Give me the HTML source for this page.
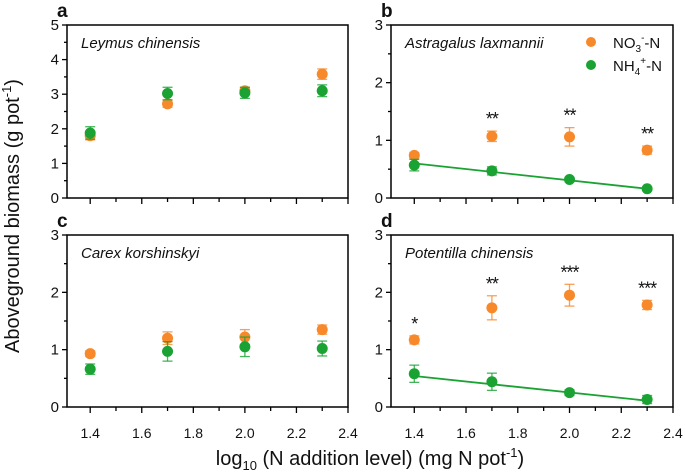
<!DOCTYPE html>
<html><head><meta charset="utf-8"><style>
body{margin:0;background:#fff}
svg{display:block;font-family:"Liberation Sans",Arial,sans-serif}
</style></head><body>
<svg id="chart" width="685" height="474" viewBox="0 0 685 474" xmlns="http://www.w3.org/2000/svg"></svg>
<script>
const xCats = [1.4, 1.7, 2.0, 2.3];
const xTicks = [1.4, 1.6, 1.8, 2.0, 2.2, 2.4];
const aNO3 = [1.8, 2.72, 3.1, 3.58];
const aNO3Err = [0.12, 0.1, 0.1, 0.15];
const aNH4 = [1.88, 3.02, 3.04, 3.1];
const aNH4Err = [0.18, 0.18, 0.16, 0.17];
const bNO3 = [0.74, 1.07, 1.06, 0.83];
const bNO3Err = [0.05, 0.09, 0.16, 0.07];
const bNH4 = [0.57, 0.47, 0.32, 0.16];
const bNH4Err = [0.1, 0.07, 0.04, 0.03];
const bFit = [0.6, 0.16];
const bStars = ["", "**", "**", "**"];
const cNO3 = [0.93, 1.2, 1.22, 1.35];
const cNO3Err = [0.05, 0.11, 0.13, 0.08];
const cNH4 = [0.66, 0.97, 1.05, 1.02];
const cNH4Err = [0.09, 0.17, 0.17, 0.13];
const dNO3 = [1.17, 1.73, 1.95, 1.78];
const dNO3Err = [0.07, 0.21, 0.19, 0.08];
const dNH4 = [0.58, 0.44, 0.25, 0.13];
const dNH4Err = [0.15, 0.15, 0.05, 0.07];
const dFit = [0.54, 0.11];
const dStars = ["*", "**", "***", "***"];

const svg = document.getElementById('chart');
const NS = 'http://www.w3.org/2000/svg';
const OR = '#f7892b', GR = '#1aa332';
function mk(tag, attrs, parent){const e=document.createElementNS(NS,tag);for(const k in attrs)e.setAttribute(k,attrs[k]);(parent||svg).appendChild(e);return e;}

const panels = [
 {id:'a', L:67, R:348, T:25, B:198, ymax:5, title:'Leymus chinensis', no3:aNO3, no3e:aNO3Err, nh4:aNH4, nh4e:aNH4Err},
 {id:'b', L:391, R:673, T:25, B:198, ymax:3, title:'Astragalus laxmannii', no3:bNO3, no3e:bNO3Err, nh4:bNH4, nh4e:bNH4Err, fit:bFit, stars:bStars, legend:true},
 {id:'c', L:67, R:348, T:235, B:407, ymax:3, title:'Carex korshinskyi', no3:cNO3, no3e:cNO3Err, nh4:cNH4, nh4e:cNH4Err, xlabels:true},
 {id:'d', L:391, R:673, T:235, B:407, ymax:3, title:'Potentilla chinensis', no3:dNO3, no3e:dNO3Err, nh4:dNH4, nh4e:dNH4Err, fit:dFit, stars:dStars, xlabels:true}
];

panels.forEach(p=>{
  const g = mk('g',{});
  
  
  const xs = v => p.L + (v-1.31)/(2.4-1.31)*(p.R-p.L);
  const ys = v => p.B - v/p.ymax*(p.B-p.T);
  const frame = mk('rect',{x:p.L,y:p.T,width:p.R-p.L,height:p.B-p.T,fill:'none',stroke:'#000','stroke-width':1.5},g);
  
  
  for(let v=0; v<=p.ymax+1e-9; v+=0.5){
    const major = Math.abs(v-Math.round(v))<1e-9;
    mk('line',{x1:p.L-(major?5:3),x2:p.L,y1:ys(v),y2:ys(v),stroke:'#000','stroke-width':1.3},g);
    if(major){const t=mk('text',{x:p.L-8,y:ys(v)+5,'text-anchor':'end','font-size':15,fill:'#111'},g);t.textContent=v;
      }
  }
  for(let v=1.4; v<=2.401; v+=0.1){
    const major = Math.round(v*10)%2===0;
    mk('line',{x1:xs(v),x2:xs(v),y1:p.B,y2:p.B+(major?6:4),stroke:'#000','stroke-width':1.3},g);
  }
  if(p.xlabels){
    xTicks.forEach(v=>{const t=mk('text',{x:xs(v),y:p.B+31,'text-anchor':'middle','font-size':14,fill:'#111'},g);t.textContent=v.toFixed(1);
      });
  }
  const lt = mk('text',{x:p.L-10,y:p.T-8,'font-size':19,'font-weight':'bold',fill:'#111'},g);
  lt.textContent=p.id;
  
  
  const st = mk('text',{x:p.L+14,y:p.T+23,'font-size':15,'font-style':'italic',fill:'#111'},g);
  st.textContent=p.title;
  
  
  if(p.fit){
    const fl = mk('line',{x1:xs(xCats[0]),y1:ys(p.fit[0]),x2:xs(xCats[3]),y2:ys(p.fit[1]),stroke:GR,'stroke-width':1.8},g);
    
    
  }
  function series(vals, errs, col, name){
    vals.forEach((v,i)=>{
      const x=xs(xCats[i]), y=ys(v), e=errs[i]*(p.B-p.T)/p.ymax;
      mk('line',{x1:x,x2:x,y1:y-e,y2:y+e,stroke:col,'stroke-width':1.3,opacity:0.8},g);
      mk('line',{x1:x-5,x2:x+5,y1:y-e,y2:y-e,stroke:col,'stroke-width':1.3,opacity:0.8},g);
      mk('line',{x1:x-5,x2:x+5,y1:y+e,y2:y+e,stroke:col,'stroke-width':1.3,opacity:0.8},g);
      const c=mk('circle',{cx:x,cy:y,r:5.5,fill:col},g);
      
      
    });
  }
  series(p.no3,p.no3e,OR,'no3');
  series(p.nh4,p.nh4e,GR,'nh4');
  if(p.stars){
    p.stars.forEach((s,i)=>{ if(!s) return;
      const y=ys(p.no3[i]+p.no3e[i])-6;
      const t=mk('text',{x:xs(xCats[i]),y:y,'text-anchor':'middle','font-size':18,'letter-spacing':'-1',fill:'#111'},g);t.textContent=s;
      });
  }
  if(p.legend){
    const lg = mk('g',{},g);
    
    
    mk('circle',{cx:591,cy:42,r:5,fill:OR},lg);
    const t1=mk('text',{x:613,y:48,'font-size':15,fill:'#111'},lg);
    t1.innerHTML='NO<tspan font-size="10" dy="4">3</tspan><tspan font-size="10" dy="-11">-</tspan><tspan dy="7">-N</tspan>';
    mk('circle',{cx:591,cy:65,r:5,fill:GR},lg);
    const t2=mk('text',{x:613,y:71,'font-size':15,fill:'#111'},lg);
    t2.innerHTML='NH<tspan font-size="10" dy="4">4</tspan><tspan font-size="10" dy="-11">+</tspan><tspan dy="7">-N</tspan>';
  }
});
const yt = mk('text',{x:0,y:0,transform:'translate(19,216) rotate(-90)','text-anchor':'middle','font-size':20,fill:'#111'});
yt.innerHTML='Aboveground biomass (g pot<tspan font-size="13" dy="-8">-1</tspan><tspan dy="8">)</tspan>';


const xt = mk('text',{x:370,y:465,'text-anchor':'middle','font-size':20,fill:'#111'});
xt.innerHTML='log<tspan font-size="13" dy="5">10</tspan><tspan dy="-5"> (N addition level) (mg N pot</tspan><tspan font-size="13" dy="-8">-1</tspan><tspan dy="8">)</tspan>';


</script>
</body></html>
